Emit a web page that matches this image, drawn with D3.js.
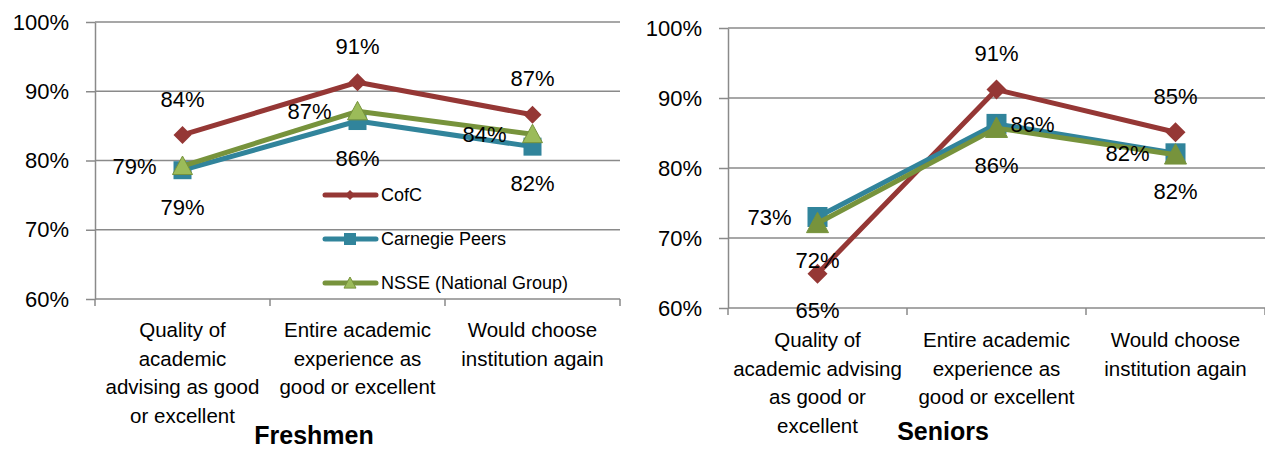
<!DOCTYPE html>
<html>
<head>
<meta charset="utf-8">
<script src="https://cdn.jsdelivr.net/npm/d3@7"></script>
<style>
  body { margin: 0; background: #fff; }
  svg text { font-family: "Liberation Sans", Arial, sans-serif; fill: #000; }
</style>
</head>
<body>
<div id="chart"></div>
<script>
// category labels (already broken into lines like the original)
const freshCategories = [
  ["Quality of", "academic", "advising as good", "or excellent"],
  ["Entire academic", "experience as", "good or excellent"],
  ["Would choose", "institution again"]
];
const seniorCategories = [
  ["Quality of", "academic advising", "as good or", "excellent"],
  ["Entire academic", "experience as", "good or excellent"],
  ["Would choose", "institution again"]
];
const seriesNames = ["CofC", "Carnegie Peers", "NSSE (National Group)"];
const yTicks = [0.6, 0.7, 0.8, 0.9, 1.0];

// Freshmen
const freshCofC     = [0.837, 0.913, 0.866];
const freshCarnegie = [0.786, 0.857, 0.820];
const freshNSSE     = [0.792, 0.871, 0.838];
// Seniors
const seniorCofC     = [0.649, 0.912, 0.851];
const seniorCarnegie = [0.730, 0.863, 0.821];
const seniorNSSE     = [0.721, 0.857, 0.819];

const W = 1265, H = 450;
const pct = d3.format(".0%");

const svg = d3.select("#chart").append("svg")
  .attr("width", W).attr("height", H);

function marker(g, type, x, y, s) {
  if (type == "diamond") {
    g.append("path")
      .attr("d", `M${x},${y - s}L${x + s},${y}L${x},${y + s}L${x - s},${y}Z`)
      .attr("fill", "#953735");
  } else if (type == "square") {
    g.append("rect")
      .attr("x", x - s).attr("y", y - s)
      .attr("width", 2 * s).attr("height", 2 * s)
      .attr("fill", "#31849B");
  } else {
    g.append("path")
      .attr("d", `M${x},${y - s}L${x + s},${y + s * 0.85}L${x - s},${y + s * 0.85}Z`)
      .attr("fill", g.attr("data-tri"))
      .attr("stroke", "#77933C").attr("stroke-width", 1);
  }
}

function drawChart(opt) {
  const x = d3.scaleBand().domain([0, 1, 2]).range([opt.x0, opt.x1]).padding(0);
  const y = d3.scaleLinear().domain([0.6, 1.0]).range([opt.y0, opt.y1]);
  const g = svg.append("g");

  // gridlines
  g.selectAll(".grid").data(yTicks).enter().append("line")
    .attr("x1", opt.x0).attr("x2", opt.gridEnd)
    .attr("y1", d => y(d)).attr("y2", d => y(d))
    .attr("stroke", "#8a8a8a").attr("stroke-width", 1.5);

  // y axis
  const ax = g.append("g")
    .attr("transform", `translate(${opt.x0},0)`)
    .call(d3.axisLeft(y).tickValues(yTicks).tickFormat(pct)
      .tickSize(9).tickSizeOuter(0).tickPadding(17));
  ax.select(".domain").attr("stroke", "#8a8a8a").attr("stroke-width", 1.5);
  ax.selectAll(".tick line").attr("stroke", "#8a8a8a").attr("stroke-width", 1.5);
  ax.selectAll(".tick text").style("font-size", "22px").attr("fill", "#000");

  // category boundary ticks
  const bounds = [0, 1, 2].map(i => x(i)).concat([x(2) + x.bandwidth()]);
  g.selectAll(".ctick").data(bounds).enter().append("line")
    .attr("x1", d => d).attr("x2", d => d)
    .attr("y1", opt.y0).attr("y2", opt.y0 + 7)
    .attr("stroke", "#8a8a8a").attr("stroke-width", 1.5);

  // category labels
  opt.categories.forEach((lines, i) => {
    const t = g.append("text")
      .attr("text-anchor", "middle")
      .style("font-size", "20.5px");
    lines.forEach((ln, j) => {
      t.append("tspan")
        .attr("x", x(i) + x.bandwidth() / 2)
        .attr("y", opt.y0 + opt.labelTop + j * 28.5)
        .text(ln);
    });
  });

  // series
  const cx = i => x(i) + x.bandwidth() / 2;
  const line = d3.line().x((d, i) => cx(i)).y(d => y(d));
  opt.series.forEach(s => {
    const sg = g.append("g").attr("data-tri", s.fill || "");
    sg.append("path").datum(s.values)
      .attr("d", line)
      .attr("fill", "none")
      .attr("stroke", s.color)
      .attr("stroke-width", 5)
      .attr("stroke-linejoin", "round");
    s.values.forEach((v, i) => marker(sg, s.type, cx(i), y(v), s.size));
  });

  // data labels
  opt.series.forEach(s => {
    s.values.forEach((v, i) => {
      const pos = s.labels[i];
      let lx = cx(i), ly = y(v), anchor = "middle";
      if (pos == "above") ly -= 36;
      else if (pos == "below") ly += 37;
      else if (pos == "left") { lx -= 26; anchor = "end"; }
      else { lx += 14; anchor = "start"; }
      g.append("text")
        .attr("x", lx).attr("y", ly)
        .attr("dy", "0.35em")
        .attr("text-anchor", anchor)
        .style("font-size", "22px")
        .text(pct(v));
    });
  });

  // title
  g.append("text")
    .attr("x", opt.titleX).attr("y", opt.titleY)
    .attr("text-anchor", "middle")
    .style("font-size", "25px").style("font-weight", "bold")
    .text(opt.title);
  return g;
}

drawChart({
  x0: 95, x1: 620, gridEnd: 620, y0: 299, y1: 22, labelTop: 38,
  categories: freshCategories,
  title: "Freshmen", titleX: 314, titleY: 444,
  series: [
    { values: freshCofC, color: "#953735", type: "diamond", size: 9, labels: ["above", "above", "above"] },
    { values: freshCarnegie, color: "#31849B", type: "square", size: 9, labels: ["below", "below", "below"] },
    { values: freshNSSE, color: "#77933C", fill: "#9BBB59", type: "triangle", size: 10, labels: ["left", "left", "left"] }
  ]
});

drawChart({
  x0: 728, x1: 1265, gridEnd: 1265, y0: 308, y1: 28, labelTop: 39,
  categories: seniorCategories,
  title: "Seniors", titleX: 943, titleY: 440,
  series: [
    { values: seniorCofC, color: "#953735", type: "diamond", size: 10, labels: ["below", "above", "above"] },
    { values: seniorCarnegie, color: "#31849B", type: "square", size: 10, labels: ["left", "right", "left"] },
    { values: seniorNSSE, color: "#77933C", fill: "#77933C", type: "triangle", size: 11, labels: ["below", "below", "below"] }
  ]
});

// legend (left chart only)
const legend = svg.append("g");
const legendTypes = ["diamond", "square", "triangle"];
const legendColors = ["#953735", "#31849B", "#77933C"];
const legendY = d3.scalePoint().domain(seriesNames).range([195, 283]);
seriesNames.forEach((name, i) => {
  const lg = legend.append("g").attr("data-tri", "#9BBB59");
  const yy = legendY(name);
  lg.append("line")
    .attr("x1", 325).attr("x2", 376).attr("y1", yy).attr("y2", yy)
    .attr("stroke", legendColors[i]).attr("stroke-width", 5)
    .attr("stroke-linecap", "round");
  marker(lg, legendTypes[i], 350, yy, i == 0 ? 5 : 6);
  lg.append("text")
    .attr("x", 381).attr("y", yy).attr("dy", "0.35em")
    .style("font-size", "18px")
    .text(name);
});
</script>
</body>
</html>
